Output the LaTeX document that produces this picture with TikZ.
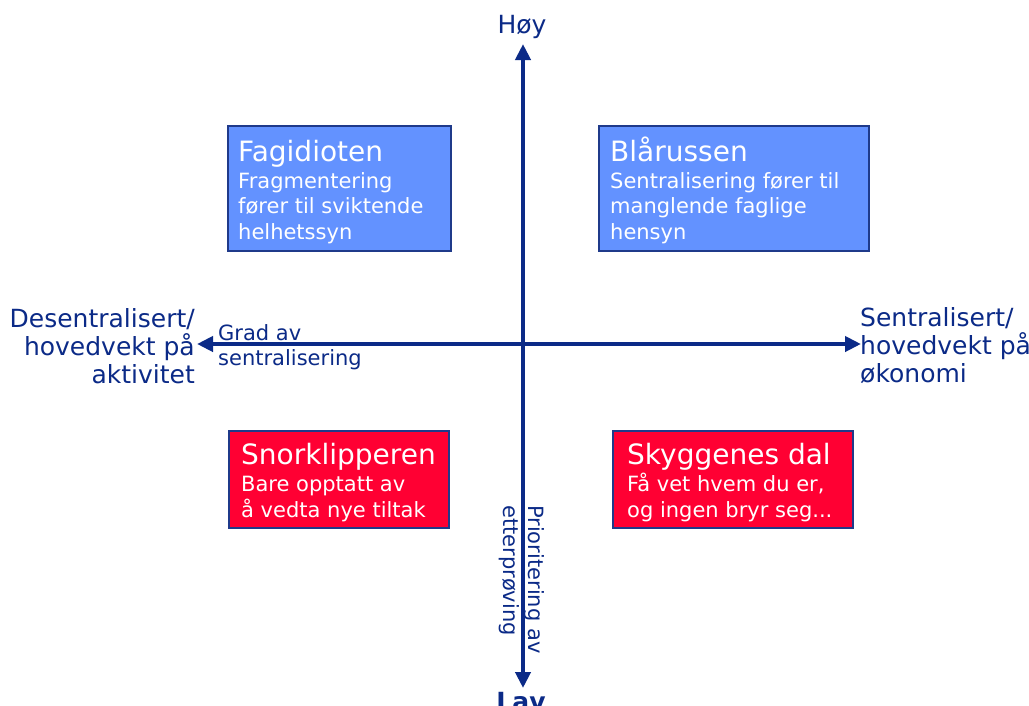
\documentclass[tikz,border=0pt]{standalone}
\usepackage{fontspec}
\setmainfont{DejaVu Sans}
\usetikzlibrary{arrows.meta}
\definecolor{navy}{HTML}{0B2A87}
\definecolor{qblue}{HTML}{6392FF}
\definecolor{qred}{HTML}{FF0033}
\definecolor{edge}{HTML}{1F3A8A}
\begin{document}
\begin{tikzpicture}[x=1pt,y=-1pt,
  quad/.style={draw=edge, line width=1.5pt, anchor=north west, inner sep=0pt},
  bluebox/.style={quad, fill=qblue},
  redbox/.style={quad, fill=qred},
  title/.style={text=white, anchor=base west, inner sep=0pt, font=\fontsize{28}{32}\selectfont},
  body/.style={text=white, anchor=base west, inner sep=0pt, align=left, font=\fontsize{21}{25.5}\selectfont},
  axislabel/.style={text=navy, inner sep=0pt, font=\fontsize{25}{28}\selectfont},
  smalllabel/.style={text=navy, inner sep=0pt, font=\fontsize{21}{25}\selectfont},
  tip/.style={Triangle[length=16pt,width=15pt]},
  axis/.style={draw=navy, line width=4pt, {Triangle[length=16pt,width=15pt]}-{Triangle[length=16pt,width=15pt]}}]
\useasboundingbox (0,0) rectangle (1029,705);

% the two axes
\coordinate (west) at (197,344);
\coordinate (east) at (861,344);
\coordinate (north) at (523,44);
\coordinate (south) at (523,688);
\draw[axis] (west) -- (east);
\draw[axis] (south) -- (north);

% quadrant boxes
\node[bluebox, minimum width=223pt, minimum height=125pt] (fag) at (227,125) {};
\node[bluebox, minimum width=270pt, minimum height=125pt] (bla) at (598,125) {};
\node[redbox, minimum width=220pt, minimum height=97pt] (snork) at (228,430) {};
\node[redbox, minimum width=240pt, minimum height=97pt] (skygge) at (612,430) {};

% box texts (multi-line nodes are placed by the baseline of their last line)
\node[title] (fagT) at (238,161) {Fagidioten};
\node[body] (fagB) at (238,239) {Fragmentering\\fører til sviktende\\helhetssyn};
\node[title] (blaT) at (610,161) {Blårussen};
\node[body] (blaB) at (610,239) {Sentralisering fører til\\manglende faglige\\hensyn};
\node[title] (snorkT) at (241,464) {Snorklipperen};
\node[body] (snorkB) at (241,517) {Bare opptatt av\\å vedta nye tiltak};
\node[title] (skyggeT) at (627,464) {Skyggenes dal};
\node[body] (skyggeB) at (627,517) {Få vet hvem du er,\\og ingen bryr seg...};

% axis labels
\node[axislabel, anchor=base] (hoy) at (522,33) {Høy};
\node[axislabel, anchor=base, font=\fontsize{25}{28}\selectfont\bfseries] (lav) at (521,710) {Lav};
\node[axislabel, anchor=base east, align=right] (desentral) at (195,383) {Desentralisert/\\hovedvekt på\\aktivitet};
\node[axislabel, anchor=base west, align=left] (sentral) at (860,382) {Sentralisert/\\hovedvekt på\\økonomi};
\node[smalllabel, anchor=base west, align=left] (grad) at (218,365) {Grad av\\sentralisering};
\node[smalllabel, anchor=base west, align=left, rotate=-90] (prior) at (503,505) {Prioritering av\\etterprøving};
\end{tikzpicture}
\end{document}
